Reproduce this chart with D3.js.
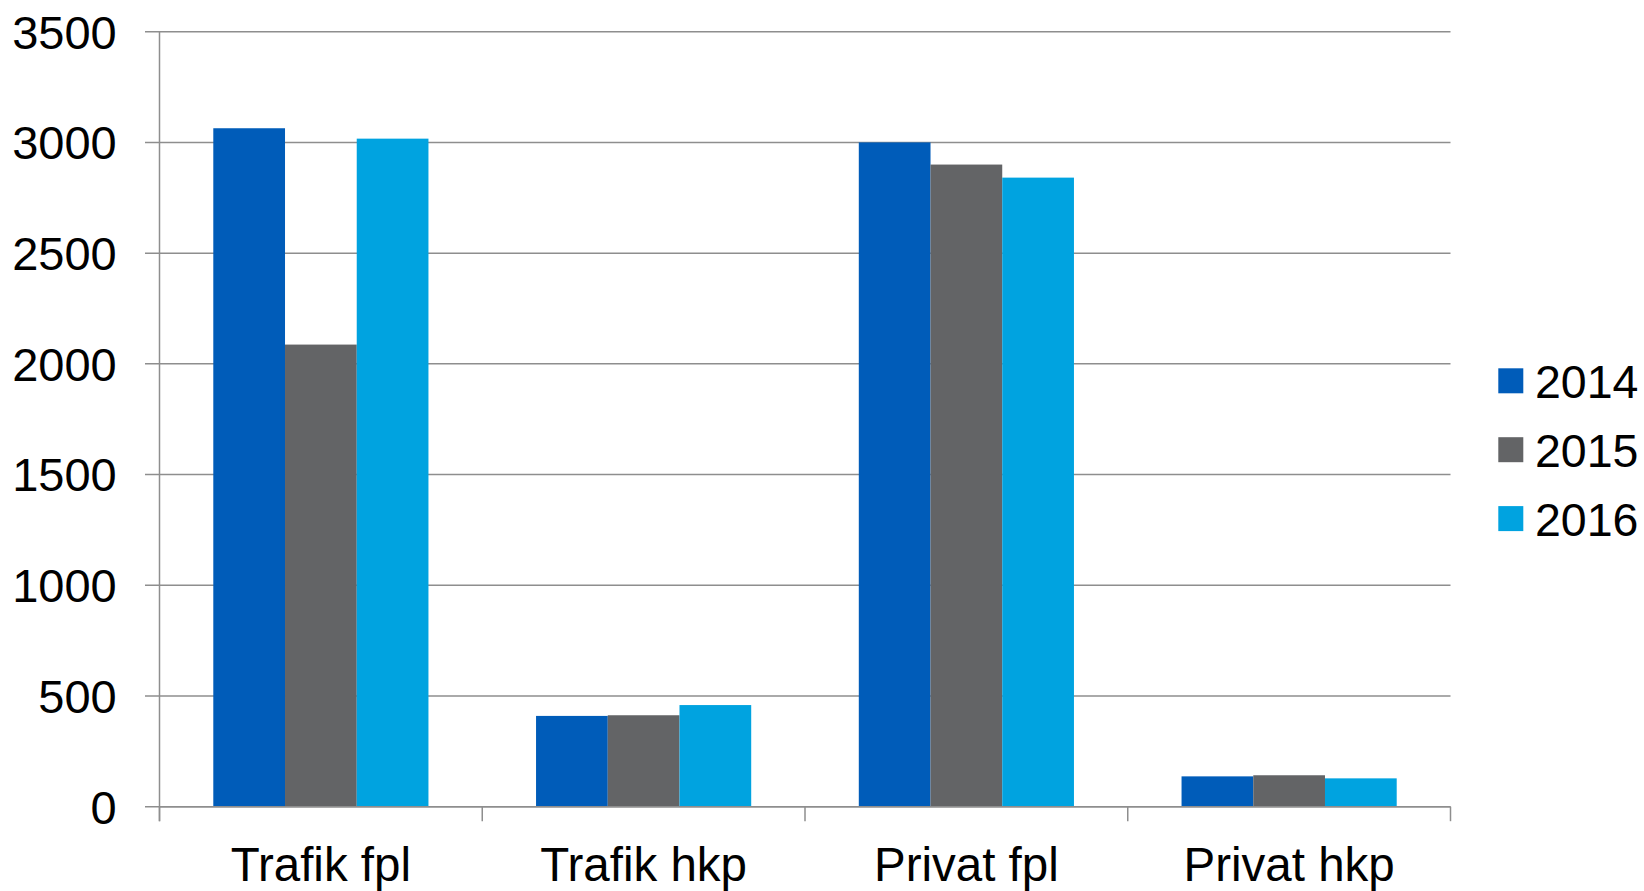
<!DOCTYPE html>
<html>
<head>
<meta charset="utf-8">
<script src="https://cdn.jsdelivr.net/npm/d3@7"></script>
<style>
  html, body { margin: 0; padding: 0; background: #fff; }
  svg { display: block; }
  text { font-family: "Liberation Sans", Arial, sans-serif; fill: #000; }
</style>
</head>
<body>
<svg id="chart" width="1644" height="891"></svg>
<script>
const categories = ["Trafik fpl", "Trafik hkp", "Privat fpl", "Privat hkp"];
const years = ["2014", "2015", "2016"];
const values2014 = [3064, 410, 3000, 137];
const values2015 = [2087, 413, 2900, 142];
const values2016 = [3017, 459, 2841, 128];
const yTicks = [0, 500, 1000, 1500, 2000, 2500, 3000, 3500];
const colors = ["#005cb9", "#636466", "#00a3e0"];

(function () {
const series = [values2014, values2015, values2016];
const rows = categories.map((c, i) => ({ cat: c, vals: years.map((yr, j) => ({ year: yr, value: series[j][i], idx: j })) }));

const svg = d3.select("#chart");
const mLeft = 159.5, mRight = 1450.5, mTop = 31.7, mBottom = 806.7;

const x0 = d3.scaleBand().domain(categories).range([mLeft, mRight]).paddingInner(0).paddingOuter(0);
const x1 = d3.scaleBand().domain(years).range([0, x0.bandwidth()]).paddingInner(0).paddingOuter(0.75);
const y = d3.scaleLinear().domain([0, 3500]).range([mBottom, mTop]);

const gridColor = "#8e8e8e";

// gridlines + y ticks
svg.append("g").selectAll("line").data(yTicks).join("line")
  .attr("x1", mLeft - 14.5).attr("x2", mRight)
  .attr("y1", d => y(d)).attr("y2", d => y(d))
  .attr("stroke", gridColor).attr("stroke-width", 1.5);

// y labels
svg.append("g").selectAll("text").data(yTicks).join("text")
  .attr("x", 116.7).attr("y", d => y(d) + 16.8)
  .attr("text-anchor", "end")
  .attr("font-size", 47)
  .text(d => d);

// bars
const groups = svg.append("g").selectAll("g").data(rows).join("g")
  .attr("transform", d => `translate(${x0(d.cat)},0)`);
groups.selectAll("rect").data(d => d.vals).join("rect")
  .attr("x", d => x1(d.year))
  .attr("width", x1.bandwidth())
  .attr("y", d => y(d.value))
  .attr("height", d => y(0) - y(d.value))
  .attr("fill", d => colors[d.idx]);

// y axis line
svg.append("line")
  .attr("x1", mLeft).attr("x2", mLeft).attr("y1", mTop).attr("y2", mBottom + 14.5)
  .attr("stroke", gridColor).attr("stroke-width", 1.5);

// x axis line
svg.append("line")
  .attr("x1", mLeft).attr("x2", mRight).attr("y1", mBottom).attr("y2", mBottom)
  .attr("stroke", gridColor).attr("stroke-width", 1.5);

// x ticks at band boundaries
const bounds = categories.map(c => x0(c)).concat([mRight]);
svg.append("g").selectAll("line").data(bounds).join("line")
  .attr("x1", d => d).attr("x2", d => d)
  .attr("y1", mBottom).attr("y2", mBottom + 14.5)
  .attr("stroke", gridColor).attr("stroke-width", 1.5);

// x labels
svg.append("g").selectAll("text").data(categories).join("text")
  .attr("x", d => x0(d) + x0.bandwidth() / 2)
  .attr("y", 880.5)
  .attr("text-anchor", "middle")
  .attr("font-size", 47.5)
  .text(d => d);

// legend
const legend = svg.append("g").selectAll("g").data(years).join("g")
  .attr("transform", (d, i) => `translate(1498.3, ${368.3 + i * 68.9})`);
legend.append("rect").attr("width", 25).attr("height", 25).attr("fill", (d, i) => colors[i]);
legend.append("text").attr("x", 36.7).attr("y", 30).attr("font-size", 46.5).text(d => d);
})();
</script>
</body>
</html>
